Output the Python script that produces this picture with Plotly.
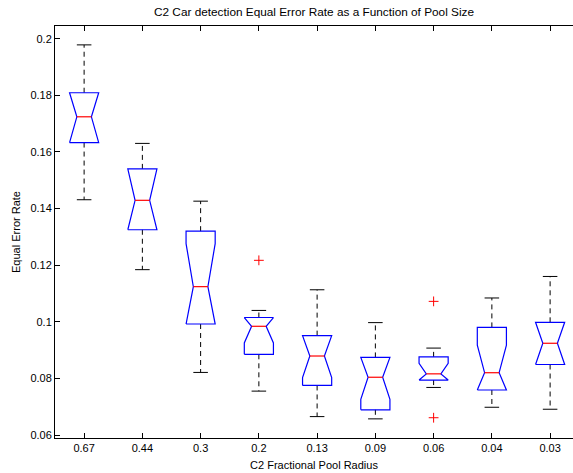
import plotly.graph_objects as go

# ---- data ----
categories = ["0.67", "0.44", "0.3", "0.2", "0.13", "0.09", "0.06", "0.04", "0.03"]
upper_whisker = [0.1978, 0.1630, 0.1426, 0.1040, 0.1113, 0.0997, 0.0907, 0.1084, 0.1160]
q3 = [0.1809, 0.1540, 0.1320, 0.1015, 0.0951, 0.0874, 0.0876, 0.0980, 0.0998]
notch_hi = [0.1809, 0.1540, 0.1276, 0.1015, 0.0951, 0.0874, 0.0853, 0.0917, 0.0998]
median = [0.1724, 0.1429, 0.1124, 0.0984, 0.0879, 0.0804, 0.0816, 0.0820, 0.0924]
notch_lo = [0.1633, 0.1325, 0.0992, 0.0925, 0.0803, 0.0726, 0.0794, 0.0759, 0.0849]
q1 = [0.1633, 0.1325, 0.0992, 0.0885, 0.0775, 0.0689, 0.0794, 0.0759, 0.0849]
lower_whisker = [0.1431, 0.1184, 0.0821, 0.0755, 0.0665, 0.0657, 0.0768, 0.0698, 0.0691]
outlier_cat = ["0.2", "0.06", "0.06"]
outlier_val = [0.1217, 0.1072, 0.0661]

y_tick_vals = [0.06, 0.08, 0.1, 0.12, 0.14, 0.16, 0.18, 0.2]
y_tick_text = ["0.06", "0.08", "0.1", "0.12", "0.14", "0.16", "0.18", "0.2"]

title = "C2 Car detection Equal Error Rate as a Function of Pool Size"
x_title = "C2 Fractional Pool Radius"
y_title = "Equal Error Rate"

# ---- geometry helpers ----
W = 0.25      # box half width
WN = 0.125    # notch half width
WC = 0.125    # cap half width
pos = list(range(1, len(categories) + 1))

box_x, box_y = [], []
med_x, med_y = [], []
wh_x, wh_y = [], []
cap_x, cap_y = [], []
for i, c in enumerate(pos):
    box_x += [c - W, c - W, c - WN, c - W, c - W, c + W, c + W, c + WN, c + W, c + W, c - W, None]
    box_y += [q1[i], notch_lo[i], median[i], notch_hi[i], q3[i], q3[i], notch_hi[i],
              median[i], notch_lo[i], q1[i], q1[i], None]
    med_x += [c - WN, c + WN, None]
    med_y += [median[i], median[i], None]
    wh_x += [c, c, None, c, c, None]
    wh_y += [q3[i], upper_whisker[i], None, q1[i], lower_whisker[i], None]
    cap_x += [c - WC, c + WC, None, c - WC, c + WC, None]
    cap_y += [upper_whisker[i], upper_whisker[i], None, lower_whisker[i], lower_whisker[i], None]

out_x = [pos[categories.index(k)] for k in outlier_cat]

fig = go.Figure()
fig.add_trace(go.Scatter(x=wh_x, y=wh_y, mode="lines",
                         line=dict(color="black", width=1, dash="5px,4px"),
                         hoverinfo="skip", showlegend=False))
fig.add_trace(go.Scatter(x=cap_x, y=cap_y, mode="lines",
                         line=dict(color="black", width=1),
                         hoverinfo="skip", showlegend=False))
fig.add_trace(go.Scatter(x=box_x, y=box_y, mode="lines",
                         line=dict(color="blue", width=1.2),
                         hoverinfo="skip", showlegend=False))
fig.add_trace(go.Scatter(x=med_x, y=med_y, mode="lines",
                         line=dict(color="red", width=1.2),
                         hoverinfo="skip", showlegend=False))
fig.add_trace(go.Scatter(x=out_x, y=outlier_val, mode="markers",
                         marker=dict(symbol="cross-thin", size=7,
                                     line=dict(color="red", width=1)),
                         showlegend=False))

font = "Liberation Sans, Arial, Helvetica, sans-serif"
fig.update_layout(
    width=573, height=473,
    margin=dict(l=55, r=0, t=26, b=35),
    paper_bgcolor="white", plot_bgcolor="white",
    font=dict(family=font, size=11, color="black"),
    title=dict(text=title, x=0.5, xref="paper", xanchor="center",
               y=1 - 12 / 473, yref="container", yanchor="middle",
               font=dict(size=11.8, color="black")),
    showlegend=False,
)
fig.update_xaxes(
    range=[0.5, 9.393], tickvals=pos, ticktext=categories,
    showline=True, linecolor="black", linewidth=1, mirror="ticks",
    ticks="inside", ticklen=5, tickcolor="black",
    showgrid=False, zeroline=False,
    title=dict(text=x_title, standoff=8, font=dict(size=11)),
)
fig.update_yaxes(
    range=[0.05894, 0.20447], tickvals=y_tick_vals, ticktext=y_tick_text,
    showline=True, linecolor="black", linewidth=1, mirror=False,
    ticks="inside", ticklen=5, tickcolor="black",
    showgrid=False, zeroline=False,
    title=dict(text=y_title, standoff=7, font=dict(size=11)),
)

fig.write_html("out.html")
